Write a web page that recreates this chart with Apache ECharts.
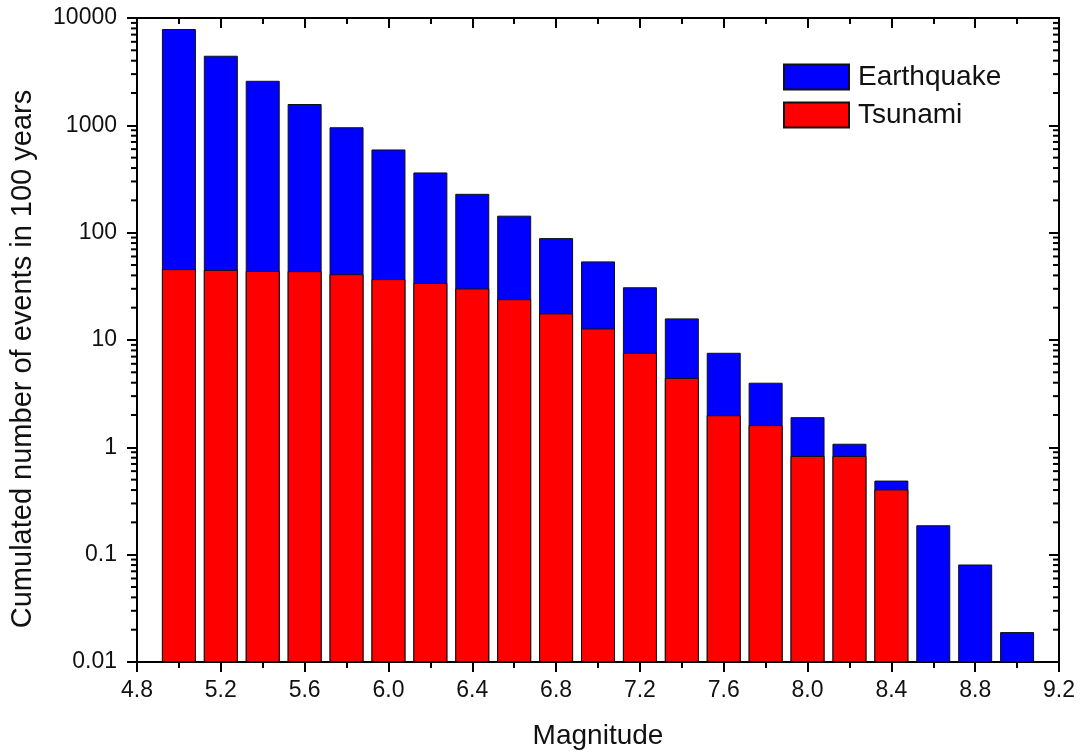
<!DOCTYPE html>
<html>
<head>
<meta charset="utf-8">
<title>Cumulated events per magnitude</title>
<script src="https://cdn.jsdelivr.net/npm/echarts@6/dist/echarts.min.js"></script>
<style>
  html, body { margin: 0; padding: 0; background: #ffffff; }
  #chart { width: 1083px; height: 755px; }
</style>
</head>
<body>
<div id="chart"></div>
<script>
// Magnitude bins (bar centres)
const magnitudes = [5.0, 5.2, 5.4, 5.6, 5.8, 6.0, 6.2, 6.4, 6.6, 6.8, 7.0,
                    7.2, 7.4, 7.6, 7.8, 8.0, 8.2, 8.4, 8.6, 8.8, 9.0];
// Cumulated number of earthquakes in 100 years
const earthquakeCounts = [7900, 4450, 2600, 1580, 960, 596, 364, 230, 144, 89, 54,
                          31, 15.9, 7.6, 4.0, 1.91, 1.08, 0.49, 0.188, 0.081, 0.019];
// Cumulated number of tsunamis in 100 years (none recorded above 8.4)
const tsunamiCounts = [45.7, 45, 44, 43.8, 41, 36.9, 34, 30.2, 24, 17.7, 12.8,
                       7.6, 4.43, 1.99, 1.61, 0.83, 0.83, 0.405, null, null, null];
// Axis tick labels
const xTickLabels = ['4.8', '5.2', '5.6', '6.0', '6.4', '6.8', '7.2', '7.6', '8.0', '8.4', '8.8', '9.2'];
const yTickLabels = ['0.01', '0.1', '1', '10', '100', '1000', '10000'];
// Intermediate log ticks (2..9 within each decade)
const yMinorTicks = [];
for (let e = -2; e < 4; e++) {
  for (let m = 2; m <= 9; m++) yMinorTicks.push(m * Math.pow(10, e));
}

const X_MIN = 4.8, X_MAX = 9.2;
const Y_MIN = 0.01, Y_MAX = 10000;
const FONT = 'Liberation Sans, Arial, sans-serif';
const TEXT = '#111';

function xLabel(v) {
  return xTickLabels.find(l => Math.abs(+l - v) < 1e-6) || '';
}
function yLabel(v) {
  return yTickLabels.find(l => Math.abs(Math.log10(+l) - Math.log10(v)) < 1e-6) || '';
}

const chart = echarts.init(document.getElementById('chart'), null, { renderer: 'canvas' });

const axisLine = { show: true, lineStyle: { color: '#000', width: 2 } };

chart.setOption({
  animation: false,
  backgroundColor: '#ffffff',
  grid: { left: 137, right: 24, top: 18, bottom: 93, containLabel: false },
  legend: {
    data: ['Earthquake', 'Tsunami'],
    orient: 'vertical',
    left: 783,
    top: 63,
    padding: 0,
    icon: 'rect',
    itemWidth: 65,
    itemHeight: 25,
    itemGap: 10,
    textStyle: { fontFamily: FONT, fontSize: 28, lineHeight: 25, color: TEXT, padding: [0, 0, 0, 4] }
  },
  xAxis: [
    {
      type: 'value', position: 'bottom',
      min: X_MIN, max: X_MAX, interval: 0.4,
      name: 'Magnitude', nameLocation: 'middle', nameGap: 60,
      nameTextStyle: { fontFamily: FONT, fontSize: 28, color: TEXT },
      axisLine: axisLine,
      axisTick: { show: true, inside: false, length: 10, lineStyle: { color: '#000', width: 2 } },
      minorTick: { show: true, splitNumber: 2, length: 6, lineStyle: { color: '#000', width: 2 } },
      axisLabel: { fontFamily: FONT, fontSize: 23, color: TEXT, margin: 17, formatter: xLabel },
      splitLine: { show: false }
    },
    {
      type: 'value', position: 'top',
      min: X_MIN, max: X_MAX, interval: 0.4,
      axisLine: axisLine,
      axisTick: { show: true, inside: true, length: 10, lineStyle: { color: '#000', width: 2 } },
      minorTick: { show: true, splitNumber: 2, length: 6, lineStyle: { color: '#000', width: 2 } },
      axisLabel: { show: false },
      splitLine: { show: false }
    }
  ],
  yAxis: [
    {
      type: 'log', logBase: 10, position: 'left',
      min: Y_MIN, max: Y_MAX, startValue: Y_MIN, splitNumber: 6,
      name: 'Cumulated number of events in 100 years', nameLocation: 'middle', nameGap: 100,
      nameTextStyle: { fontFamily: FONT, fontSize: 29, color: TEXT, padding: [0, 38, 0, 0] },
      axisLine: axisLine,
      axisTick: { show: true, inside: false, length: 10, lineStyle: { color: '#000', width: 2 } },
      axisLabel: { fontFamily: FONT, fontSize: 23, color: TEXT, margin: 20, formatter: yLabel },
      splitLine: { show: false }
    },
    {
      type: 'log', logBase: 10, position: 'right',
      min: Y_MIN, max: Y_MAX, splitNumber: 6,
      axisLine: axisLine,
      axisTick: { show: true, inside: true, length: 10, lineStyle: { color: '#000', width: 2 } },
      axisLabel: { show: false },
      splitLine: { show: false }
    }
  ],
  series: [
    {
      name: 'Earthquake', type: 'bar', xAxisIndex: 0, yAxisIndex: 0,
      barWidth: 34, barGap: '-100%', z: 2,
      itemStyle: { color: '#0000ff', borderColor: '#111', borderWidth: 1 },
      data: magnitudes.map((m, i) => [m, earthquakeCounts[i]])
    },
    {
      name: 'Tsunami', type: 'bar', xAxisIndex: 0, yAxisIndex: 0,
      barWidth: 34, barGap: '-100%', z: 3,
      itemStyle: { color: '#ff0000', borderColor: '#111', borderWidth: 1 },
      data: magnitudes.map((m, i) => tsunamiCounts[i] == null ? null : [m, tsunamiCounts[i]])
                      .filter(d => d !== null)
    },
    {
      // logarithmic minor ticks on the left (outside) and right (inside) frame
      name: 'yMinor', type: 'custom', xAxisIndex: 0, yAxisIndex: 0,
      clip: false, silent: true, z: 5,
      encode: { x: 0, y: 1 },
      data: yMinorTicks.map(v => [X_MIN, v]),
      renderItem: function (params, api) {
        const v = api.value(1);
        const pl = api.coord([X_MIN, v]);
        const pr = api.coord([X_MAX, v]);
        const st = { stroke: '#000', lineWidth: 2 };
        return {
          type: 'group',
          children: [
            { type: 'line', shape: { x1: pl[0] - 6, y1: pl[1], x2: pl[0], y2: pl[1] }, style: st },
            { type: 'line', shape: { x1: pr[0] - 6, y1: pr[1], x2: pr[0], y2: pr[1] }, style: st }
          ]
        };
      }
    }
  ]
});
</script>
</body>
</html>
